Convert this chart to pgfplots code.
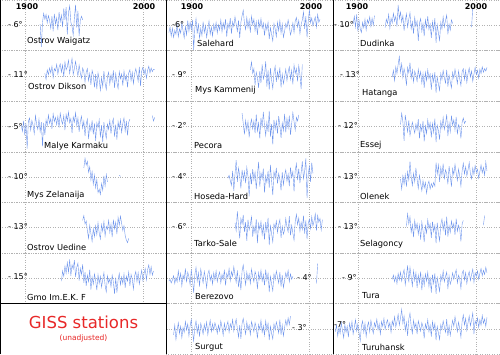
\documentclass[border=0pt]{standalone}
\usepackage{pgfplots}
\pgfplotsset{compat=1.18}
\usepackage{fontspec}
\setmainfont{DejaVu Sans}
\definecolor{lb}{RGB}{112,150,236}
\definecolor{gisred}{RGB}{232,40,40}
\pgfplotsset{panel/.style={scale only axis, width=166.5pt, height=50.57pt,
  xmin=1879, xmax=2020, ymin=-4.2, ymax=4.2,
  xtick={1900,2000}, ytick={0}, xticklabels={}, yticklabels={},
  xmajorgrids, ymajorgrids, major grid style={black!30, dotted},
  major tick length=0pt, axis line style={black!30, dotted}, anchor=south west},
  d/.style={lb, line width=0.4pt, mark=none}}
\tikzset{nm/.style={anchor=west, font=\fontsize{8.3}{10}\selectfont, inner sep=0pt},
  tl/.style={anchor=west, font=\fontsize{8}{10}\selectfont, inner sep=0pt},
  yr/.style={font=\fontsize{8}{10}\selectfont\bfseries, inner sep=0pt}}
\begin{document}
\begin{tikzpicture}
\useasboundingbox (0pt,0pt) rectangle (500pt,354pt);
% ---------------- column 1 ----------------
\begin{axis}[panel, at={(0pt,303.43pt)}]
\addplot[d] coordinates {(1913,.2)(1914,-3.6)(1915,.5)(1916,2.0)(1917,1.0)(1918,1.8)(1919,.4)(1920,1.6)(1921,.8)(1922,-.5)(1923,1.5)(1924,-1.0)(1925,1.9)(1926,.2)(1927,1.2)(1928,-.8)(1929,2.2)(1930,.6)(1931,1.7)(1932,-.3)(1933,2.8)(1934,.9)(1935,3.0)(1936,-1.5)(1937,2.1)(1938,3.2)(1939,.5)(1940,-.2)(1941,-1.6)(1942,1.3)(1943,3.4)(1944,-.4)(1945,2.4)(1946,-1.8)(1947,.8)(1948,1.5)(1949,.9)};
\end{axis}
\begin{axis}[panel, at={(0pt,252.86pt)}]
\addplot[d] coordinates {(1917,.4)(1918,-.6)(1919,1.0)(1920,.2)(1921,1.3)(1922,.5)(1923,1.6)(1924,-.3)(1925,1.2)(1926,.8)(1927,1.9)(1928,.3)(1929,1.4)(1930,2.0)(1931,.6)(1932,1.8)(1933,-.2)(1934,2.3)(1935,1.0)(1936,1.5)(1937,2.6)(1938,.4)(1939,1.7)(1940,2.9)(1941,.2)(1942,1.2)(1943,2.4)(1944,1.1)(1945,.0)(1946,1.8)(1947,.5)(1948,-.4)(1949,1.3)(1950,.7)(1951,-1.0)(1952,.6)(1953,1.2)(1954,-.8)(1955,.4)(1956,-1.5)(1957,.9)(1958,.1)(1959,-1.9)(1960,.3)(1961,-2.2)(1962,.5)(1963,-.6)(1964,-2.4)(1965,-.3)(1966,-1.8)(1967,.8)(1968,-1.2)(1969,-2.3)(1970,-.1)(1971,.6)(1972,-1.4)(1973,.2)(1974,-.9)(1975,.9)(1976,-2.0)(1977,.4)(1978,-1.1)(1979,-2.1)(1980,.7)(1981,-.5)(1982,.3)(1983,-1.6)(1984,.8)(1985,-.7)(1986,.1)(1987,-1.9)(1988,.5)(1989,1.0)(1990,-.8)(1991,.6)(1992,-1.3)(1993,.4)(1994,1.2)(1995,.2)(1996,-.9)(1997,1.5)(1998,-1.7)(1999,.8)(2000,1.4)(2001,.3)(2002,1.1)(2003,-.4)(2004,.9)(2005,1.6)(2006,.5)(2007,1.3)(2008,.7)(2009,1.1)(2010,1.0)};
\end{axis}
\begin{axis}[panel, at={(0pt,202.29pt)}]
\addplot[d] coordinates {(1897,.3)(1898,-.8)(1899,.9)(1900,-1.5)(1901,.5)(1902,-3.7)(1903,.8)(1904,1.4)(1905,-.6)(1906,1.0)(1907,.2)(1908,-1.2)(1909,1.8)(1910,.4)(1911,-.5)(1912,1.2)(1913,-.9)(1914,.7)(1915,-3.3)(1916,.6)(1917,-1.4)(1918,1.1)(1919,.1)(1920,1.9)(1921,.5)(1922,1.3)(1923,-.4)(1924,2.1)(1925,.8)(1926,1.5)(1927,.3)(1928,1.7)(1929,-.2)(1930,2.2)(1931,1.0)(1932,.4)(1933,1.8)(1934,-.6)(1935,2.0)(1936,.9)(1937,2.4)(1938,.6)(1939,1.3)(1940,-1.1)(1941,1.6)(1942,.7)(1943,2.3)(1944,.1)(1945,1.4)(1946,-.9)(1947,.8)(1948,1.7)(1949,-.3)(1950,.9)(1951,-1.6)(1952,.4)(1953,1.2)(1954,-2.1)(1955,.3)(1956,-.7)(1957,1.0)(1958,-1.3)(1959,.5)(1960,-2.4)(1961,.6)(1962,-.2)(1963,1.1)(1964,-1.8)(1965,.2)(1966,-2.6)(1967,.7)(1968,-.9)(1969,-2.0)(1970,.4)(1971,-.5)(1972,1.0)(1973,-1.2)(1974,.6)(1975,1.3)(1976,-1.7)(1977,.3)(1978,-2.2)(1979,.8)(1980,-.4)(1981,1.1)(1982,-1.0)(1983,.5)(1984,1.4)(1985,-.8)(1986,.9)(1987,-1.5)(1988,.7)(1989,1.2)};
\addplot[d] coordinates {(2008,1.8)(2009,.9)(2010,1.5)};
\end{axis}
\begin{axis}[panel, at={(0pt,151.71pt)}]
\addplot[d] coordinates {(1950,1.5)(1951,3.1)(1952,2.0)(1953,2.6)(1954,.8)(1955,1.7)(1956,-.5)(1957,.9)(1958,-1.2)(1959,.3)(1960,-1.8)(1961,-.4)(1962,-2.6)(1963,-2.0)(1964,-2.9)(1965,-1.1)(1966,-2.2)(1967,.2)(1968,-1.5)(1969,.4)(1970,-.8)};
\addplot[d] coordinates {(1980,.3)(1981,.1)};
\end{axis}
\begin{axis}[panel, at={(0pt,101.14pt)}]
\addplot[d] coordinates {(1949,1.2)(1950,2.0)(1951,.6)(1952,1.1)(1953,-.5)(1954,-1.8)(1955,.4)(1956,-1.0)(1957,-2.3)(1958,-.2)(1959,-1.5)(1960,.3)(1961,-1.2)(1962,.8)(1963,-.9)(1964,-1.9)(1965,.5)(1966,-.6)(1967,1.0)(1968,-1.4)(1969,.2)(1970,-.3)(1971,1.2)(1972,-.8)(1973,.6)(1974,-1.6)(1975,1.3)(1976,-.2)(1977,.9)(1978,-1.1)(1979,1.7)(1980,.4)(1981,1.9)(1982,.7)(1983,-.5)(1984,.3)(1985,-1.3)(1986,-2.1)(1987,-2.5)(1988,-1.8)};
\end{axis}
\begin{axis}[panel, at={(0pt,50.57pt)}]
\addplot[d] coordinates {(1931,-.5)(1932,1.2)(1933,.3)(1934,2.0)(1935,.8)(1936,2.6)(1937,1.0)(1938,3.1)(1939,.4)(1940,2.2)(1941,1.5)(1942,3.0)(1943,.2)(1944,1.8)(1945,2.5)(1946,-.4)(1947,1.6)(1948,.6)(1949,2.3)(1950,-.8)(1951,1.0)(1952,-1.3)(1953,.5)(1954,-.6)(1955,1.4)(1956,-1.9)(1957,.2)(1958,-1.0)(1959,.7)(1960,-.4)(1961,-2.0)(1962,.6)(1963,-.9)(1964,.3)(1965,-1.5)(1966,-.2)(1967,.9)(1968,-1.2)(1969,-2.3)(1970,.4)(1971,-.8)(1972,-.1)(1973,-1.4)(1974,.5)(1975,-.7)(1976,-2.6)(1977,.1)(1978,-2.4)(1979,-.3)(1980,.8)(1981,-1.1)(1982,.2)(1983,-.9)(1984,.7)(1985,-1.6)(1986,.3)(1987,-.5)(1988,1.0)(1989,-1.3)(1990,.6)(1991,-.2)(1992,-1.8)(1993,.4)(1994,1.1)(1995,-.6)(1996,.9)(1997,-1.0)(1998,.2)(1999,1.3)(2000,-.4)(2001,.8)(2002,1.6)(2003,-.3)(2004,1.4)(2005,2.2)(2006,.6)(2007,1.9)(2008,.5)(2009,1.2)};
\end{axis}
% ---------------- column 2 ----------------
\begin{axis}[panel, at={(166.5pt,303.43pt)}]
\addplot[d] coordinates {(1881,-1.2)(1882,-.3)(1883,-1.8)(1884,-.5)(1885,-2.0)(1886,-.8)(1887,-1.5)(1888,.2)(1889,-1.9)(1890,-.6)(1891,-1.3)(1892,.4)(1893,-.9)(1894,-2.1)(1895,-.2)(1896,-1.6)(1897,.8)(1898,-1.0)(1899,.5)(1900,-.7)(1901,.9)(1902,-4.1)(1903,-.4)(1904,1.1)(1905,-1.4)(1906,.3)(1907,-2.2)(1908,-.5)(1909,-1.7)(1910,.6)(1911,-1.2)(1912,-.1)(1913,-2.0)(1914,-.6)(1915,.7)(1916,-1.5)(1917,-.3)(1918,-1.8)(1919,.2)(1920,-.9)(1921,.5)(1922,-1.3)(1923,.1)(1924,-.8)(1925,.9)(1926,-1.1)(1927,.4)(1928,-.6)(1929,1.0)(1930,-1.9)(1931,.3)(1932,-.5)(1933,1.2)(1934,-1.4)(1935,.6)(1936,-.2)(1937,1.4)(1938,.2)(1939,-1.0)(1940,.8)(1941,-2.1)(1942,.5)(1943,1.6)(1944,2.5)(1945,.3)(1946,-.7)(1947,1.3)(1948,-.4)(1949,.9)(1950,-1.2)(1951,1.5)(1952,.1)(1953,1.0)(1954,-.9)(1955,.6)(1956,-1.6)(1957,.8)(1958,-.3)(1959,1.1)(1960,-.5)(1961,.4)(1962,-1.7)(1963,.2)(1964,-.8)(1965,.5)(1966,-2.3)(1967,-.4)(1968,-1.5)(1969,-2.6)(1970,.3)(1971,-.6)(1972,-1.9)(1973,.5)(1974,-.9)(1975,.8)(1976,-1.3)(1977,.2)(1978,-2.0)(1979,-1.0)(1980,.3)(1981,-.4)(1982,.9)(1983,-.2)(1984,-1.6)(1985,-.8)(1986,.4)(1987,-1.2)(1988,.7)(1989,1.3)(1990,-.3)(1991,.8)(1992,-1.4)(1993,.1)(1994,.9)(1995,2.2)(1996,-.6)(1997,1.5)(1998,-2.0)(1999,.6)(2000,2.6)(2001,.4)(2002,1.2)(2003,-.1)(2004,.7)(2005,1.4)(2006,-.3)(2007,1.8)(2008,.5)(2009,1.0)};
\end{axis}
\begin{axis}[panel, at={(166.5pt,252.86pt)}]
\addplot[d] coordinates {(1950,1.0)(1951,2.3)(1952,.4)(1953,1.2)(1954,-1.5)(1955,.6)(1956,-.3)(1957,-2.0)(1958,.8)(1959,-1.2)(1960,1.9)(1961,-.5)(1962,.2)(1963,2.4)(1964,-1.8)(1965,.9)(1966,-2.3)(1967,1.3)(1968,-.7)(1969,-2.1)(1970,.5)(1971,1.6)(1972,-1.0)(1973,.7)(1974,-.4)(1975,1.4)(1976,-1.9)(1977,.3)(1978,-1.3)(1979,-.2)(1980,1.1)(1981,-.8)(1982,.6)(1983,1.5)(1984,-.6)(1985,.9)(1986,-1.4)(1987,1.8)(1988,.4)(1989,1.2)(1990,-.9)(1991,1.7)(1992,.2)(1993,-2.2)(1994,1.9)};
\end{axis}
\begin{axis}[panel, at={(166.5pt,202.29pt)}]
\addplot[d] coordinates {(1943,2.2)(1944,.5)(1945,-1.3)(1946,1.0)(1947,-.6)(1948,.8)(1949,-1.8)(1950,.3)(1951,1.2)(1952,-.4)(1953,.9)(1954,-1.1)(1955,2.0)(1956,-.8)(1957,.6)(1958,-2.0)(1959,1.4)(1960,-.2)(1961,2.4)(1962,.1)(1963,-1.5)(1964,.7)(1965,-.9)(1966,2.6)(1967,-1.7)(1968,.4)(1969,-3.0)(1970,1.1)(1971,-.5)(1972,.9)(1973,-1.2)(1974,1.7)(1975,.2)(1976,-1.9)(1977,.6)(1978,-.7)(1979,2.1)(1980,-1.0)(1981,1.3)(1982,-.3)(1983,1.8)(1984,-1.4)(1985,.5)(1986,2.3)(1987,.8)(1988,-.6)(1989,1.5)(1990,.9)(1991,1.9)};
\end{axis}
\begin{axis}[panel, at={(166.5pt,151.71pt)}]
\addplot[d] coordinates {(1931,-.2)(1932,.3)(1933,-.6)(1934,-1.4)(1935,1.0)(1936,-2.3)(1937,.5)(1938,2.8)(1939,-.8)(1940,1.5)(1941,.2)(1942,-1.9)(1943,1.2)(1944,-.4)(1945,.9)(1946,-1.0)(1947,1.6)(1948,.1)(1949,-3.2)(1950,.6)(1951,-1.2)(1952,1.3)(1953,-.5)(1954,.8)(1955,-2.0)(1956,.4)(1957,2.5)(1958,-1.6)(1959,.7)(1960,-.3)(1961,1.4)(1962,-2.6)(1963,.2)(1964,-.9)(1965,1.0)(1966,-1.8)(1967,2.0)(1968,-.6)(1969,-3.0)(1970,.9)(1971,-.2)(1972,1.5)(1973,-1.1)(1974,.6)(1975,-.4)(1976,-2.2)(1977,.8)(1978,-1.3)(1979,.3)(1980,1.2)(1981,-.7)(1982,.5)(1983,-1.5)(1984,1.6)(1985,-.1)(1986,.9)(1987,-2.4)(1988,1.1)(1989,2.2)(1990,-.5)(1991,1.4)(1992,-1.0)(1993,.7)(1994,2.6)(1995,-.3)(1996,1.0)(1997,3.1)(1998,-3.5)(1999,.4)(2000,1.8)(2001,-.8)(2002,2.4)(2003,.6)};
\end{axis}
\begin{axis}[panel, at={(166.5pt,101.14pt)}]
\addplot[d] coordinates {(1937,.8)(1938,-.5)(1939,2.7)(1940,.3)(1941,-1.8)(1942,1.5)(1943,.6)(1944,2.1)(1945,-.7)(1946,.9)(1947,-2.2)(1948,1.3)(1949,-.4)(1950,.5)(1951,1.8)(1952,-1.5)(1953,.2)(1954,-.9)(1955,1.4)(1956,-2.6)(1957,.7)(1958,-.3)(1959,1.0)(1960,-1.2)(1961,.4)(1962,-2.0)(1963,.9)(1964,-.6)(1965,1.6)(1966,-2.9)(1967,.3)(1968,-1.0)(1969,-2.4)(1970,.6)(1971,-.2)(1972,1.1)(1973,-.8)(1974,.5)(1975,1.3)(1976,-1.7)(1977,.2)(1978,-1.1)(1979,-.4)(1980,1.5)(1981,.1)(1982,-.7)(1983,1.9)(1984,-1.3)(1985,.4)(1986,-.9)(1987,-2.1)(1988,1.0)(1989,2.2)(1990,.5)(1991,1.6)(1992,-.6)(1993,.9)(1994,-.3)(1995,2.0)(1996,-1.0)(1997,1.2)(1998,-1.9)(1999,.7)(2000,1.4)(2001,-.2)(2002,1.8)(2003,.3)(2004,1.1)(2005,2.3)(2006,-.5)(2007,2.0)(2008,.9)(2009,1.5)(2010,-.4)(2011,1.3)};
\end{axis}
\begin{axis}[panel, at={(166.5pt,50.57pt)}]
\addplot[d] coordinates {(1881,-.5)(1882,-.2)(1883,-.8)(1884,-.3)(1885,.4)(1886,-.9)(1887,.1)(1888,-.6)(1889,1.2)(1890,-.4)(1891,.8)(1892,-1.3)(1893,.5)(1894,-.2)(1895,1.6)(1896,-.7)(1897,1.0)(1898,.2)(1899,-1.1)(1900,1.4)(1901,-.3)(1902,-2.4)(1903,.6)(1904,1.8)(1905,-.5)(1906,.9)(1907,-1.4)(1908,1.5)(1909,.3)(1910,-.8)(1911,1.1)(1912,.0)(1913,-1.6)(1914,.7)(1915,1.3)(1916,-.4)(1917,.5)(1918,-1.0)(1919,.9)(1920,-.3)(1921,1.2)(1922,-.6)(1923,.4)(1924,1.0)(1925,-.8)(1926,.6)(1927,-.2)(1928,1.4)(1929,-1.2)(1930,.8)(1931,.1)(1932,1.6)(1933,-.4)(1934,1.1)(1935,.3)(1936,1.9)(1937,.5)(1938,-.7)(1939,1.3)(1940,-1.5)(1941,.2)(1942,-2.0)(1943,1.2)(1944,2.2)(1945,.4)(1946,-1.1)(1947,1.0)(1948,-.3)(1949,.7)(1950,-.9)(1951,1.5)(1952,.2)(1953,-.6)(1954,1.1)(1955,.4)(1956,-1.8)(1957,.9)(1958,-.2)(1959,1.3)(1960,-.5)(1961,.6)(1962,-1.2)(1963,1.4)(1964,-.4)(1965,.8)(1966,-2.3)(1967,.3)(1968,-1.0)(1969,-2.1)(1970,.7)(1971,-.3)(1972,1.2)(1973,.2)(1974,-.8)(1975,1.0)(1976,-1.4)(1977,.5)(1978,-1.6)(1979,-.4)(1980,.9)(1981,.1)(1982,1.3)(1983,-.6)(1984,.7)(1985,-.2)(1986,.3)};
\addplot[d] coordinates {(2006,-.9)(2007,2.4)};
\end{axis}
\begin{axis}[panel, at={(166.5pt,0pt)}]
\addplot[d] coordinates {(1885,-1.0)(1886,.6)(1887,-1.8)(1888,-.3)(1889,1.0)(1890,-.8)(1891,.4)(1892,-1.5)(1893,.2)(1894,-.6)(1895,1.2)(1896,-.2)(1897,.8)(1898,-1.2)(1899,.5)(1900,1.5)(1901,-.4)(1902,-2.0)(1903,.3)(1904,1.3)(1905,-.7)(1906,.6)(1907,-1.3)(1908,.9)(1909,.1)(1910,-.9)(1911,.7)(1912,-.3)(1913,1.1)(1914,-1.0)(1915,.4)(1916,1.4)(1917,-.5)(1918,.8)(1919,-.2)(1920,1.0)(1921,.3)(1922,-.8)(1923,.6)(1924,-.4)(1925,1.3)(1926,.2)(1927,-1.1)(1928,.9)(1929,-.3)(1930,.5)(1931,1.2)(1932,-.6)(1933,.8)(1934,.1)(1935,1.5)(1936,-.4)(1937,.7)(1938,1.6)(1939,.0)(1940,-1.4)(1941,.6)(1942,-1.7)(1943,.9)(1944,1.7)(1945,.3)(1946,-.9)(1947,1.1)(1948,-.2)(1949,.6)(1950,-1.0)(1951,1.2)(1952,.4)(1953,-.5)(1954,1.0)(1955,.2)(1956,-1.6)(1957,.7)(1958,-.1)(1959,1.4)(1960,-.6)(1961,.5)(1962,-1.1)(1963,1.3)(1964,-.3)(1965,.9)(1966,-1.9)(1967,.4)(1968,-.8)(1969,-1.7)(1970,.8)(1971,-.2)(1972,1.1)(1973,.3)(1974,-.7)(1975,1.5)(1976,-1.0)(1977,.6)(1978,-1.2)(1979,.2)(1980,1.4)(1981,.5)(1982,1.8)(1983,.7)(1984,2.1)};
\end{axis}
% ---------------- column 3 ----------------
\begin{axis}[panel, width=167pt, at={(333pt,303.43pt)}]
\addplot[d] coordinates {(1896,.2)(1897,1.5)(1898,-.3)(1899,1.8)(1900,-1.0)(1901,.8)(1902,-.6)(1903,-1.2)(1904,.5)(1905,-.4)(1906,1.0)(1907,-.8)(1908,.9)(1909,.3)(1910,1.4)(1911,-.2)(1912,1.2)(1913,.0)(1914,1.6)};
\addplot[d] coordinates {(1923,-.4)(1924,1.0)(1925,.3)(1926,1.8)(1927,-.5)(1928,1.2)(1929,.4)(1930,2.0)(1931,.7)(1932,1.5)(1933,-.2)(1934,3.4)(1935,1.1)(1936,2.2)(1937,.5)(1938,1.6)(1939,-.9)(1940,.8)(1941,1.9)(1942,-.3)(1943,1.0)(1944,2.1)(1945,-.6)(1946,.6)(1947,-1.4)(1948,1.3)(1949,-.2)(1950,.7)(1951,-2.6)(1952,.4)(1953,1.1)(1954,-1.0)(1955,.3)(1956,-1.8)(1957,.9)(1958,-.4)(1959,1.5)(1960,-.7)(1961,.2)(1962,-2.1)(1963,.6)(1964,-.9)(1965,1.2)(1966,-2.9)(1967,.1)(1968,-1.3)(1969,-2.5)(1970,.5)(1971,-.6)(1972,1.4)(1973,-.3)(1974,.8)(1975,1.7)(1976,-1.5)(1977,.2)(1978,-.8)(1979,.9)(1980,.3)};
\addplot[d] coordinates {(1996,-.3)(1997,2.9)};
\end{axis}
\begin{axis}[panel, width=167pt, at={(333pt,252.86pt)}]
\addplot[d] coordinates {(1929,-.2)(1930,.9)(1931,-.8)(1932,1.5)(1933,.4)(1934,1.9)(1935,3.2)(1936,.6)(1937,2.0)(1938,-.3)(1939,1.2)(1940,.3)(1941,-1.6)(1942,1.4)(1943,.5)(1944,2.2)(1945,-.4)(1946,1.0)(1947,-1.0)(1948,.8)(1949,.1)(1950,-.9)(1951,1.1)(1952,-.3)(1953,.7)(1954,-1.2)(1955,.4)(1956,-2.0)(1957,.6)(1958,-.8)(1959,1.0)(1960,-.5)(1961,.3)(1962,-2.3)(1963,.2)(1964,-1.0)(1965,.6)(1966,-2.8)(1967,-.2)(1968,-1.4)(1969,-2.4)(1970,.4)(1971,-.6)(1972,.9)(1973,-.3)(1974,-1.2)(1975,1.0)(1976,-1.8)(1977,.1)(1978,-1.0)(1979,-2.0)(1980,.6)(1981,-.4)(1982,1.1)(1983,.0)(1984,-1.3)(1985,.8)(1986,-.5)(1987,-1.6)(1988,.7)(1989,1.2)(1990,-.6)(1991,.9)(1992,-1.1)(1993,.4)(1994,1.3)(1995,-.2)(1996,.8)(1997,-.9)(1998,.3)(1999,1.4)(2000,.2)(2001,.9)(2002,-.4)(2003,1.1)(2004,.4)(2005,1.5)(2006,.6)(2007,1.2)(2008,.8)(2009,1.4)};
\end{axis}
\begin{axis}[panel, width=167pt, at={(333pt,202.29pt)}]
\addplot[d] coordinates {(1936,.3)(1937,2.2)(1938,.8)(1939,-2.4)(1940,1.9)(1941,.5)(1942,-.9)(1943,1.0)(1944,-1.5)(1945,-.4)(1946,.7)(1947,-.2)(1948,-1.1)(1949,.4)(1950,-.6)(1951,1.2)(1952,-2.0)(1953,.3)(1954,-.8)(1955,.9)(1956,-2.5)(1957,.1)(1958,-1.2)(1959,1.1)(1960,-.4)(1961,.6)(1962,-1.8)(1963,.5)(1964,-1.0)(1965,1.3)(1966,-2.6)(1967,.2)(1968,-.7)(1969,-2.2)(1970,.8)(1971,-.3)(1972,1.5)(1973,-.5)(1974,.4)(1975,2.0)(1976,-1.6)(1977,.6)(1978,-.9)(1979,1.8)(1980,.2)(1981,1.1)(1982,-.6)(1983,1.6)(1984,-1.3)(1985,.3)(1986,-.2)(1987,-2.0)(1988,.7)(1989,1.4)(1990,.5)(1991,.9)};
\end{axis}
\begin{axis}[panel, width=167pt, at={(333pt,151.71pt)}]
\addplot[d] coordinates {(1936,-.3)(1937,-2.0)(1938,.2)(1939,-1.2)(1940,.4)(1941,-1.6)(1942,.9)(1943,-.5)(1944,2.6)(1945,.0)(1946,-1.4)(1947,.6)(1948,-.8)(1949,1.5)(1950,-.4)(1951,-1.9)(1952,.3)(1953,-1.0)(1954,-2.3)(1955,-.6)(1956,-1.8)(1957,-.9)(1958,-2.7)(1959,-1.3)(1960,-.7)(1961,-2.0)(1962,-1.1)(1963,-1.7)(1964,-.9)(1965,-1.5)(1966,2.4)(1967,.5)(1968,2.0)(1969,-.8)(1970,1.6)(1971,.3)(1972,2.2)(1973,-.4)(1974,1.2)(1975,.6)(1976,-1.2)(1977,1.8)(1978,.2)(1979,-1.6)(1980,1.4)(1981,.4)(1982,2.1)(1983,.7)(1984,-.6)(1985,1.3)(1986,.1)(1987,-1.5)(1988,1.0)(1989,2.3)(1990,.5)(1991,1.7)(1992,.2)(1993,1.2)(1994,2.4)(1995,.6)(1996,-.3)(1997,1.5)(1998,.4)(1999,1.9)(2000,.8)(2001,1.3)(2002,-.2)(2003,.9)(2004,2.0)(2005,.7)(2006,1.6)(2007,.3)(2008,2.5)(2009,1.0)};
\end{axis}
\begin{axis}[panel, width=167pt, at={(333pt,101.14pt)}]
\addplot[d] coordinates {(1941,.2)(1942,2.3)(1943,.6)(1944,1.8)(1945,-.8)(1946,.5)(1947,-1.6)(1948,1.2)(1949,-.3)(1950,.7)(1951,-1.1)(1952,.4)(1953,-2.0)(1954,.9)(1955,-.5)(1956,-2.4)(1957,.3)(1958,-.9)(1959,1.3)(1960,-.2)(1961,.6)(1962,-1.7)(1963,1.0)(1964,-.7)(1965,.4)(1966,-2.6)(1967,.8)(1968,-1.0)(1969,-2.2)(1970,.5)(1971,1.4)(1972,-.4)(1973,.9)(1974,-1.3)(1975,1.8)(1976,-1.5)(1977,.3)(1978,-.8)(1979,1.1)(1980,-.1)(1981,.7)(1982,-1.2)(1983,1.5)(1984,-.6)(1985,.4)(1986,-.3)(1987,-2.3)(1988,.6)(1989,1.2)};
\addplot[d] coordinates {(2006,.4)(2007,2.0)};
\end{axis}
\begin{axis}[panel, width=167pt, at={(333pt,50.57pt)}]
\addplot[d] coordinates {(1929,-.2)(1930,.5)(1931,-.6)(1932,.3)(1933,-.9)(1934,.8)(1935,-.3)(1936,1.0)(1937,-.5)(1938,.6)(1939,1.4)(1940,-1.1)(1941,.4)(1942,2.1)(1943,-.7)(1944,1.8)(1945,.2)(1946,-1.3)(1947,1.2)(1948,-.4)(1949,.9)(1950,-1.6)(1951,.5)(1952,-.8)(1953,1.1)(1954,-2.0)(1955,.3)(1956,-1.2)(1957,.7)(1958,-.5)(1959,1.0)(1960,-1.4)(1961,.2)(1962,-2.4)(1963,.6)(1964,-.9)(1965,.8)(1966,-2.6)(1967,.1)(1968,-1.1)(1969,-2.2)(1970,.5)(1971,-.4)(1972,1.2)(1973,-.6)(1974,.3)(1975,1.0)(1976,-1.8)(1977,.4)(1978,-1.0)(1979,-.3)(1980,.9)(1981,-.2)(1982,.7)(1983,1.4)(1984,-.8)(1985,.5)(1986,-.1)(1987,-1.7)(1988,.8)(1989,1.3)(1990,-.3)(1991,.9)(1992,-.9)(1993,.4)(1994,1.1)(1995,-.4)(1996,.6)(1997,1.5)(1998,-.7)(1999,.9)(2000,.3)(2001,1.2)(2002,-.2)(2003,.8)(2004,1.6)(2005,.4)(2006,1.3)(2007,.6)(2008,1.8)(2009,.9)};
\end{axis}
\begin{axis}[panel, width=167pt, at={(333pt,0pt)}]
\addplot[d] coordinates {(1881,-.5)(1882,.6)(1883,-1.2)(1884,.2)(1885,-.8)(1886,1.0)(1887,-.3)(1888,-1.5)(1889,.7)(1890,-.6)(1891,.4)(1892,-1.4)(1893,.9)(1894,-.2)(1895,1.2)(1896,-.9)(1897,.3)(1898,1.5)(1899,-.4)(1900,.8)(1901,-.7)(1902,-2.0)(1903,.5)(1904,1.3)(1905,-.6)(1906,.9)(1907,-1.3)(1908,.4)(1909,1.1)(1910,-.5)(1911,1.4)(1912,.2)(1913,-.8)(1914,1.0)(1915,.3)(1916,1.6)(1917,-.2)(1918,.8)(1919,-.9)(1920,1.2)(1921,.4)(1922,1.7)(1923,-.1)(1924,.9)(1925,1.5)(1926,.2)(1927,1.0)(1928,-.6)(1929,1.3)(1930,.5)(1931,2.0)(1932,.3)(1933,1.2)(1934,2.4)(1935,.6)(1936,1.8)(1937,3.2)(1938,.9)(1939,2.1)(1940,-.3)(1941,1.0)(1942,-1.2)(1943,1.6)(1944,2.6)(1945,.4)(1946,-.8)(1947,1.4)(1948,.1)(1949,.9)(1950,-.9)(1951,1.3)(1952,.5)(1953,-.4)(1954,1.0)(1955,.3)(1956,-1.6)(1957,.8)(1958,.0)(1959,1.5)(1960,-.5)(1961,.6)(1962,-1.3)(1963,1.2)(1964,-.2)(1965,.9)(1966,-1.9)(1967,.4)(1968,-.7)(1969,-1.8)(1970,.7)(1971,-.1)(1972,1.3)(1973,.3)(1974,-.6)(1975,1.6)(1976,-1.2)(1977,.5)(1978,-1.1)(1979,.2)(1980,1.4)(1981,.4)(1982,2.0)(1983,.8)(1984,-.5)(1985,1.1)(1986,.0)(1987,-1.4)(1988,1.2)(1989,2.3)(1990,.6)(1991,1.7)(1992,-.3)(1993,1.0)(1994,2.1)(1995,.5)(1996,1.4)(1997,2.6)(1998,-.9)(1999,1.3)(2000,.7)(2001,1.8)(2002,.2)(2003,1.5)(2004,.6)(2005,2.2)(2006,.9)(2007,1.6)(2008,.4)(2009,1.9)};
\end{axis}
% ---------------- frame ----------------
\fill[white] (0.6pt,0.6pt) rectangle (165.9pt,50pt);
\draw[black, line width=0.8pt] (166.5pt,0pt) -- (166.5pt,354pt);
\draw[black, line width=0.8pt] (333pt,0pt) -- (333pt,354pt);
\draw[black, line width=0.8pt] (0.4pt,0pt) -- (0.4pt,354pt);
\draw[black, line width=0.8pt] (0pt,50.57pt) -- (166.5pt,50.57pt);
% ---------------- texts ----------------
\node[yr] at (27pt,347pt) {1900};
\node[yr] at (144pt,347pt) {2000};
\node[yr] at (192pt,347pt) {1900};
\node[yr] at (311pt,347pt) {2000};
\node[yr] at (357pt,347pt) {1900};
\node[yr] at (476pt,347pt) {2000};
% col 1
\node[tl] at (8pt,329pt) {- 6°};
\node[tl] at (8pt,279pt) {- 11°};
\node[tl] at (8pt,227pt) {- 5°};
\node[tl] at (8pt,177pt) {- 10°};
\node[tl] at (8pt,127pt) {- 13°};
\node[tl] at (8pt,77pt) {- 15°};
\node[nm] at (27pt,313pt) {Ostrov Waigatz};
\node[nm] at (28pt,268pt) {Ostrov Dikson};
\node[nm] at (44pt,208pt) {Malye Karmaku};
\node[nm] at (27pt,159pt) {Mys Zelanaija};
\node[nm] at (27pt,107pt) {Ostrov Uedine};
\node[nm] at (27pt,57pt) {Gmo Im.E.K. F};
\node[text=gisred, font=\fontsize{16.5}{18}\selectfont] at (83.5pt,32pt) {GISS stations};
\node[text=gisred, font=\fontsize{7.5}{9}\selectfont] at (83.5pt,16pt) {(unadjusted)};
% col 2
\node[tl] at (172pt,329pt) {-6°};
\node[tl] at (172pt,279pt) {- 9°};
\node[tl] at (172pt,228pt) {- 2°};
\node[tl] at (172pt,177pt) {- 4°};
\node[tl] at (172pt,127pt) {- 6°};
\node[tl] at (297pt,76pt) {- 4°};
\node[tl] at (292pt,26pt) {- 3°};
\node[nm] at (197pt,311pt) {Salehard};
\node[nm] at (195pt,264pt) {Mys Kammenij};
\node[nm] at (194pt,208pt) {Pecora};
\node[nm] at (194pt,158pt) {Hoseda-Hard};
\node[nm] at (194pt,111pt) {Tarko-Sale};
\node[nm] at (195pt,57pt) {Berezovo};
\node[nm] at (195pt,7pt) {Surgut};
% col 3
\node[tl] at (334pt,329pt) {- 10°};
\node[tl] at (340pt,279pt) {- 13°};
\node[tl] at (338pt,228pt) {- 12°};
\node[tl] at (338pt,177pt) {- 13°};
\node[tl] at (338pt,127pt) {- 13°};
\node[tl] at (342pt,76pt) {- 9°};
\node[tl] at (334pt,29pt) {-7°};
\node[nm] at (360pt,311pt) {Dudinka};
\node[nm] at (362pt,261pt) {Hatanga};
\node[nm] at (360pt,209pt) {Essej};
\node[nm] at (360pt,158pt) {Olenek};
\node[nm] at (360pt,110pt) {Selagoncy};
\node[nm] at (362pt,58pt) {Tura};
\node[nm] at (362pt,7pt) {Turuhansk};
\end{tikzpicture}
\end{document}
